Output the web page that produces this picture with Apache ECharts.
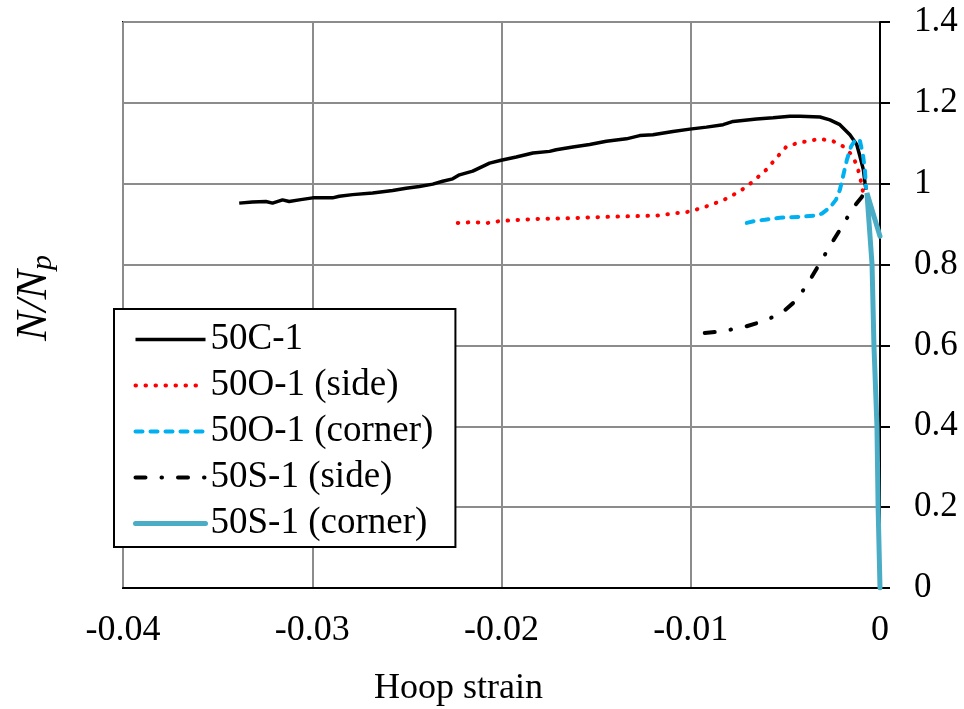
<!DOCTYPE html>
<html>
<head>
<meta charset="utf-8">
<script src="https://cdn.jsdelivr.net/npm/echarts@6/dist/echarts.min.js"></script>
<style>
  html, body { margin: 0; padding: 0; background: #fff; }
  #chart { width: 964px; height: 709px; }
</style>
</head>
<body>
<div id="chart"></div>
<script>
// Hoop strain (x) against normalised axial load N/Np (y)
const seriesNames = ['50C-1', '50O-1 (side)', '50O-1 (corner)', '50S-1 (side)', '50S-1 (corner)'];

const xTicks = [-0.04, -0.03, -0.02, -0.01, 0];
const yTicks = [0, 0.2, 0.4, 0.6, 0.8, 1, 1.2, 1.4];

// 50C-1
const c1Strain = [-0.03386, -0.03316, -0.03245, -0.0321, -0.03157, -0.03122, -0.03069, -0.02998, -0.02893, -0.02857,
  -0.02787, -0.02681, -0.02575, -0.02504, -0.02434, -0.02363, -0.02311, -0.02258, -0.02222, -0.02152,
  -0.02099, -0.02063, -0.02002, -0.01922, -0.01834, -0.01746, -0.01711, -0.01623, -0.01534, -0.01446,
  -0.0134, -0.0127, -0.012, -0.01094, -0.01005, -0.00917, -0.00829, -0.00776, -0.00652, -0.00565,
  -0.00476, -0.00423, -0.00317, -0.00265, -0.00212, -0.00159, -0.00123, -0.00106, -0.00088, -0.00079, -0.00074];
const c1Load = [0.952, 0.955, 0.956, 0.952, 0.960, 0.956, 0.960, 0.965, 0.965, 0.969,
  0.973, 0.977, 0.983, 0.989, 0.993, 0.999, 1.006, 1.012, 1.022, 1.031,
  1.043, 1.051, 1.058, 1.066, 1.076, 1.080, 1.084, 1.091, 1.097, 1.105,
  1.111, 1.119, 1.121, 1.129, 1.135, 1.140, 1.146, 1.154, 1.160, 1.163,
  1.167, 1.167, 1.165, 1.158, 1.146, 1.121, 1.097, 1.068, 1.035, 1.002, 0.985];

// 50O-1 (side)
const o1sStrain = [-0.02231, -0.02152, -0.02072, -0.02002, -0.01887, -0.01799, -0.01623, -0.01446, -0.0127, -0.01181,
  -0.01094, -0.01005, -0.00917, -0.00829, -0.00741, -0.0067, -0.006, -0.00547, -0.00494, -0.00432,
  -0.00317, -0.00247, -0.00194, -0.0015, -0.00123, -0.00106, -0.00092, -0.00085];
const o1sLoad = [0.903, 0.905, 0.903, 0.908, 0.911, 0.913, 0.915, 0.918, 0.920, 0.921,
  0.926, 0.931, 0.944, 0.959, 0.981, 1.006, 1.035, 1.064, 1.092, 1.101,
  1.111, 1.105, 1.092, 1.072, 1.047, 1.018, 0.985, 0.969];

// 50O-1 (corner)
const o1cStrain = [-0.00704, -0.00661, -0.00608, -0.00529, -0.00423, -0.00344, -0.00307, -0.00265, -0.00233, -0.00212,
  -0.00196, -0.00175, -0.00153, -0.00127, -0.00106, -0.0009, -0.00079, -0.00074];
const o1cLoad = [0.903, 0.908, 0.911, 0.916, 0.918, 0.921, 0.926, 0.941, 0.960, 0.985,
  1.017, 1.059, 1.092, 1.111, 1.106, 1.072, 1.030, 0.990];

// 50S-1 (side)
const s1sStrain = [-0.00926, -0.00847, -0.00714, -0.00598, -0.00513, -0.00439, -0.0037, -0.00317, -0.00254, -0.00201,
  -0.00143, -0.00095, -0.0009];
const s1sLoad = [0.631, 0.634, 0.646, 0.663, 0.683, 0.713, 0.762, 0.804, 0.854, 0.894,
  0.940, 0.968, 0.978];

// 50S-1 (corner)
const s1cStrain = [0, -0.0001, -0.00016, -0.00032, -0.00042, -0.00069, 0];
const s1cLoad = [0, 0.2, 0.4, 0.6, 0.8, 0.977, 0.87];

const zip = (xs, ys) => xs.map((x, i) => [x, ys[i]]);

const serif = '"Liberation Serif", "Times New Roman", serif';

// line style of each series, shared by the plotted curve and its legend key
const styles = [
  { color: '#000', width: 3.5, type: 'solid' },
  { color: '#ff0000', width: 4, type: [0.5, 9.5], cap: 'round' },
  { color: '#00b0f0', width: 4, type: [7, 8], cap: 'round' },
  { color: '#000', width: 4, type: [10, 16, 0.5, 16], cap: 'round' },
  { color: '#4bacc6', width: 5, type: 'solid', cap: 'round' }
];

const chart = echarts.init(document.getElementById('chart'), null, { renderer: 'canvas' });

function lineSeries(i, xs, ys) {
  return {
    name: seriesNames[i],
    type: 'line',
    data: zip(xs, ys),
    showSymbol: false,
    symbol: 'none',
    smooth: false,
    clip: true,
    animation: false,
    lineStyle: styles[i],
    itemStyle: { color: styles[i].color }
  };
}

chart.setOption({
  animation: false,
  backgroundColor: '#fff',
  grid: {
    left: 123, right: 84, top: 22, bottom: 121,
    outerBoundsMode: 'none',
    containLabel: false,
    show: true, borderColor: '#000', borderWidth: 2, backgroundColor: 'transparent'
  },
  xAxis: {
    type: 'value',
    min: xTicks[0], max: xTicks[xTicks.length - 1], interval: 0.01,
    position: 'bottom',
    axisLine: { show: true, onZero: false, lineStyle: { color: '#000', width: 2 } },
    axisTick: { show: false },
    splitLine: { show: true, lineStyle: { color: '#8c8c8c', width: 2 } },
    axisLabel: {
      margin: 25, color: '#000', fontSize: 36, fontFamily: serif,
      formatter: v => String(parseFloat(v.toFixed(2)))
    },
    name: 'Hoop strain',
    nameLocation: 'middle',
    nameGap: 83,
    nameTextStyle: { color: '#000', fontSize: 36, fontFamily: serif, padding: [0, 86, 0, 0] }
  },
  yAxis: {
    type: 'value',
    min: yTicks[0], max: yTicks[yTicks.length - 1], interval: 0.2,
    position: 'right',
    axisLine: { show: true, onZero: false, lineStyle: { color: '#000', width: 2 } },
    axisTick: { show: true, inside: false, length: 10, lineStyle: { color: '#000', width: 2 } },
    splitLine: { show: true, lineStyle: { color: '#8c8c8c', width: 2 } },
    axisLabel: {
      margin: 34, color: '#000', fontSize: 35, fontFamily: serif,
      formatter: v => String(parseFloat(v.toFixed(1)))
    }
  },
  legend: {
    orient: 'vertical',
    left: 114, top: 309,
    data: seriesNames.map((name, i) => ({
      name: name,
      lineStyle: Object.assign({}, styles[i]),
      itemStyle: { opacity: 0 }
    })),
    itemWidth: 70, itemHeight: 14, itemGap: 9, itemTextGap: 5,
    padding: [12, 22, 5, 19],
    borderColor: '#000', borderWidth: 2,
    backgroundColor: '#fff',
    textStyle: { color: '#000', fontSize: 37, fontFamily: serif },
    selectedMode: false
  },
  graphic: [{
    type: 'text',
    x: 34, y: 298,
    rotation: Math.PI / 2,
    style: {
      text: '{n|N/N}{p|p}',
      align: 'center', verticalAlign: 'middle',
      fill: '#000',
      rich: {
        n: { fontSize: 44, fontStyle: 'italic', fontFamily: serif, lineHeight: 44, verticalAlign: 'top' },
        p: { fontSize: 30, fontStyle: 'italic', fontFamily: serif, lineHeight: 30, verticalAlign: 'top', padding: [16, 0, 0, 0] }
      }
    }
  }],
  series: [
    lineSeries(0, c1Strain, c1Load),
    lineSeries(1, o1sStrain, o1sLoad),
    lineSeries(2, o1cStrain, o1cLoad),
    lineSeries(3, s1sStrain, s1sLoad),
    lineSeries(4, s1cStrain, s1cLoad)
  ]
});
</script>
</body>
</html>
